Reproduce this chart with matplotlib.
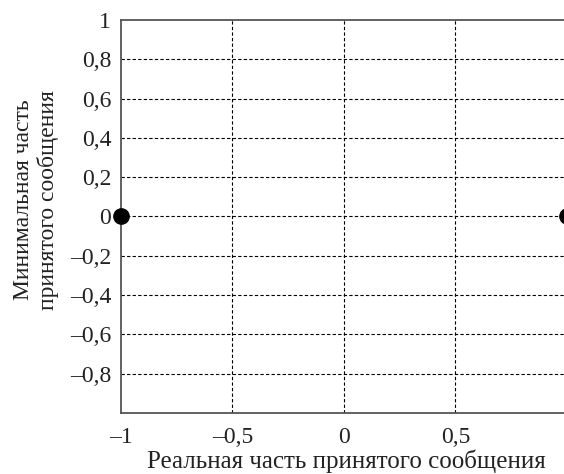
import matplotlib
matplotlib.use("Agg")
import matplotlib.pyplot as plt
from matplotlib.ticker import FuncFormatter

plt.rcParams["font.family"] = ["Liberation Serif", "DejaVu Serif"]

# constellation points (real, imaginary)
point_re = [-1, 1]
point_im = [0, 0]

x_ticks = [-1, -0.5, 0, 0.5]
y_ticks = [-0.8, -0.6, -0.4, -0.2, 0, 0.2, 0.4, 0.6, 0.8, 1]

x_label = "Реальная часть принятого сообщения"
y_label = "Минимальная часть\nпринятого сообщения"


def fmt(v, pos=None):
    s = f"{v:g}".replace(".", ",")
    return s.replace("-", "\u2013")


fig = plt.figure(figsize=(5.64, 4.74), dpi=100)
ax = fig.add_axes([0.2145, 0.1285, 0.7905, 0.8295])

ax.set_xlim(-1, 1)
ax.set_ylim(-1, 1)
ax.set_xticks(x_ticks)
ax.set_yticks(y_ticks)
ax.xaxis.set_major_formatter(FuncFormatter(fmt))
ax.yaxis.set_major_formatter(FuncFormatter(fmt))
ax.tick_params(length=0, labelsize=17, colors="#222222")
ax.tick_params(axis="y", pad=7)
ax.tick_params(axis="x", pad=10)

# dashed grid, skipping the edges
for xv in x_ticks[1:]:
    ax.axvline(xv, color="black", linestyle=(0, (3, 2)), linewidth=0.8, zorder=1)
for yv in y_ticks[:-1]:
    ax.axhline(yv, color="black", linestyle=(0, (3, 2)), linewidth=0.8, zorder=1)

for sp in ax.spines.values():
    sp.set_color("#555555")
    sp.set_linewidth(1.3)

ax.plot(point_re, point_im, "o", color="black", markersize=11,
        clip_on=False, zorder=3)

fig.text(0.6135, 1 - 468 / 474, x_label, fontsize=18, color="#222222",
         ha="center", va="baseline")
fig.text(0.064, 1 - 200 / 474, y_label, fontsize=17, color="#222222",
         ha="center", va="center", rotation=90, linespacing=1.2,
         multialignment="center")

fig.savefig("out.png", dpi=100)
